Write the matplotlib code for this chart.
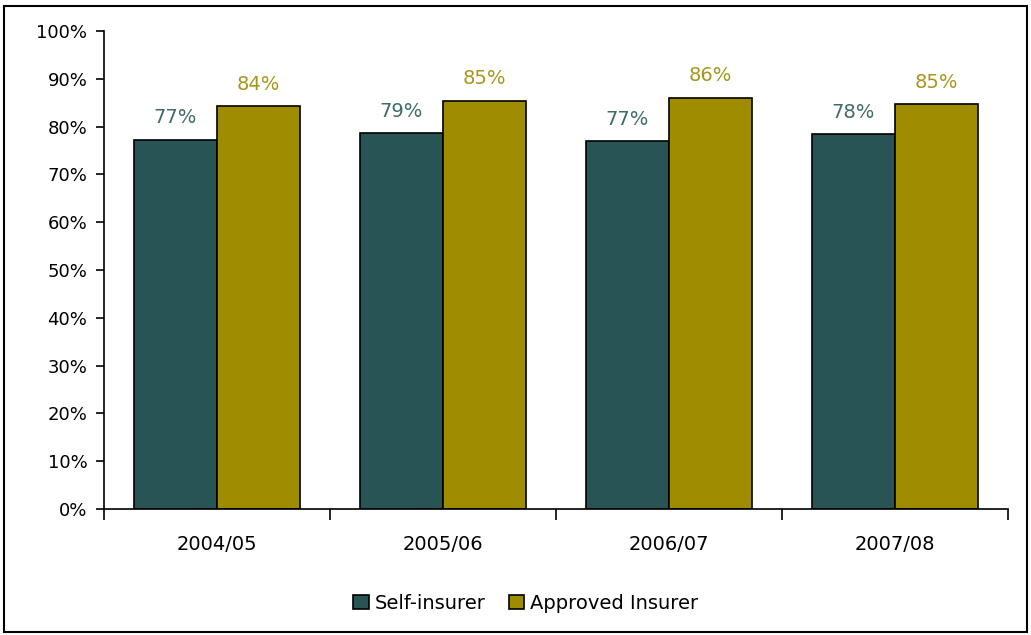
import matplotlib
matplotlib.use("Agg")
import matplotlib.pyplot as plt
import numpy as np
from matplotlib.patches import Rectangle
from matplotlib.ticker import MultipleLocator, PercentFormatter

YEARS = ["2004/05", "2005/06", "2006/07", "2007/08"]
SELF_INSURER = [77.2, 78.6, 76.9, 78.4]
APPROVED_INSURER = [84.3, 85.4, 86.0, 84.7]

SELF_COLOR = "#285455"
APPROVED_COLOR = "#A08C00"
SELF_TEXT = "#3F6B6B"
APPROVED_TEXT = "#A8961A"

plt.rcParams["font.family"] = ["DejaVu Sans"]

fig = plt.figure(figsize=(10.31, 6.35), dpi=100)
ax = fig.add_axes([0.1009, 0.1984, 0.8768, 0.7528])

x = np.arange(len(YEARS))
w = 0.367
b1 = ax.bar(x - w / 2, SELF_INSURER, w, color=SELF_COLOR, edgecolor="black",
            linewidth=1.2, label="Self-insurer")
b2 = ax.bar(x + w / 2, APPROVED_INSURER, w, color=APPROVED_COLOR, edgecolor="black",
            linewidth=1.2, label="Approved Insurer")

for bars, color in ((b1, SELF_TEXT), (b2, APPROVED_TEXT)):
    for r in bars:
        ax.annotate(f"{r.get_height():.0f}%",
                    (r.get_x() + r.get_width() / 2, r.get_height()),
                    xytext=(0, 9), textcoords="offset points",
                    ha="center", va="bottom", fontsize=14, color=color)

ax.set_xlim(-0.5, len(YEARS) - 0.5)
ax.set_ylim(0, 100)
ax.yaxis.set_major_locator(MultipleLocator(10))
ax.yaxis.set_major_formatter(PercentFormatter(decimals=0))
ax.tick_params(axis="y", direction="out", length=6, width=1.2, labelsize=13, pad=6)

ax.set_xticks(np.arange(len(YEARS) + 1) - 0.5)
ax.set_xticklabels([])
ax.set_xticks(x, minor=True)
ax.set_xticklabels(YEARS, minor=True, fontsize=14)
ax.tick_params(axis="x", which="major", direction="out", length=8, width=1.2)
ax.tick_params(axis="x", which="minor", length=0, pad=19)

for side in ("top", "right"):
    ax.spines[side].set_visible(False)
for side in ("left", "bottom"):
    ax.spines[side].set_linewidth(1.2)

fig.legend(handles=[b1, b2], loc="center", bbox_to_anchor=(0.51, 0.05),
           ncol=2, frameon=False, fontsize=14, handlelength=0.8,
           handleheight=0.8, handletextpad=0.3, columnspacing=1.2)

fig.patches.append(Rectangle((0.004, 0.005), 0.992, 0.985, transform=fig.transFigure,
                             fill=False, edgecolor="black", linewidth=1.5))

fig.savefig("out.png", dpi=100)
